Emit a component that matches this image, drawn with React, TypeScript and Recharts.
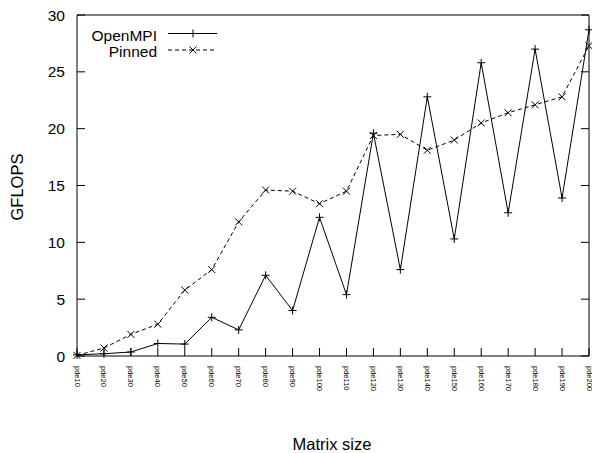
import {
  LineChart,
  Line,
  XAxis,
  YAxis,
  ReferenceLine,
  Customized,
} from "recharts";

const categories = [
  "pde10", "pde20", "pde30", "pde40", "pde50", "pde60", "pde70", "pde80", "pde90", "pde100",
  "pde110", "pde120", "pde130", "pde140", "pde150", "pde160", "pde170", "pde180", "pde190", "pde200",
];
const openMpi = [
  0.1, 0.2, 0.35, 1.1, 1.05, 3.4, 2.3, 7.1, 4.0, 12.2,
  5.4, 19.6, 7.6, 22.8, 10.3, 25.8, 12.6, 27.0, 13.9, 28.7,
];
const pinned = [
  0.05, 0.7, 1.9, 2.8, 5.8, 7.6, 11.8, 14.6, 14.5, 13.4,
  14.5, 19.4, 19.5, 18.1, 19.0, 20.5, 21.4, 22.1, 22.8, 27.3,
];
const yTicks = [0, 5, 10, 15, 20, 25, 30];

const data = categories.map((c, i) => ({ name: c, OpenMPI: openMpi[i], Pinned: pinned[i] }));

const FONT = "'Liberation Sans', Arial, Helvetica, sans-serif";
const LEFT = 77;
const RIGHT = 589;
const TOP = 15;
const BOTTOM = 356;

function PlusDot(props: any) {
  const { cx, cy, index } = props;
  if (cx == null || cy == null) return null;
  return (
    <path
      key={`p${index}`}
      d={`M${cx - 4},${cy}h8M${cx},${cy - 4}v8`}
      stroke="#000"
      strokeWidth={1}
      fill="none"
    />
  );
}

function CrossDot(props: any) {
  const { cx, cy, index } = props;
  if (cx == null || cy == null) return null;
  return (
    <path
      key={`x${index}`}
      d={`M${cx - 3.5},${cy - 3.5}l7,7M${cx - 3.5},${cy + 3.5}l7,-7`}
      stroke="#000"
      strokeWidth={1}
      fill="none"
    />
  );
}

function XTick(props: any) {
  const { x, payload } = props;
  return (
    <g>
      <line x1={x} x2={x} y1={BOTTOM} y2={BOTTOM - 8} stroke="#000" />
      <text
        transform={`translate(${x},366) rotate(90)`}
        fontSize={7.5}
        fontFamily={FONT}
        fill="#000"
        textAnchor="start"
        dominantBaseline="central"
      >
        {payload.value}
      </text>
    </g>
  );
}

function YTick(props: any) {
  const { y, payload } = props;
  return (
    <g>
      <line x1={LEFT} x2={LEFT + 8} y1={y} y2={y} stroke="#000" />
      <line x1={RIGHT - 8} x2={RIGHT} y1={y} y2={y} stroke="#000" />
      <text
        x={65}
        y={y}
        fontSize={15.5}
        fontFamily={FONT}
        fill="#000"
        textAnchor="end"
        dominantBaseline="central"
      >
        {payload.value}
      </text>
    </g>
  );
}

function Extras() {
  return (
    <g fontFamily={FONT} fill="#000">
      <text x={17} y={187} fontSize={16.5} textAnchor="middle" dominantBaseline="central"
        transform="rotate(-90, 17, 187)">
        GFLOPS
      </text>
      <text x={332} y={444} fontSize={16.5} textAnchor="middle" dominantBaseline="central">
        Matrix size
      </text>
      <text x={157} y={40.5} fontSize={15.5} textAnchor="end">OpenMPI</text>
      <line x1={168} x2={217} y1={33.5} y2={33.5} stroke="#000" />
      <PlusDot cx={193} cy={33.5} index="l1" />
      <text x={157} y={57} fontSize={15.5} textAnchor="end">Pinned</text>
      <line x1={168} x2={217} y1={50} y2={50} stroke="#000" strokeDasharray="4 3" />
      <CrossDot cx={193} cy={50} index="l2" />
    </g>
  );
}

export default function App() {
  return (
    <div style={{ position: "absolute", left: 0, top: 0, width: 592, height: 453, background: "#fff" }}>
      <LineChart
        width={592}
        height={453}
        data={data}
        margin={{ top: TOP, right: 592 - RIGHT, bottom: 0, left: 0 }}
      >
        <XAxis
          dataKey="name"
          height={453 - BOTTOM - 0}
          interval={0}
          padding={{ left: 0, right: 0 }}
          axisLine={{ stroke: "#000" }}
          tickLine={false}
          tick={<XTick />}
        />
        <YAxis
          width={LEFT}
          domain={[0, 30]}
          ticks={yTicks}
          axisLine={{ stroke: "#000" }}
          tickLine={false}
          tick={<YTick />}
          interval={0}
        />
        <ReferenceLine y={30} stroke="#000" ifOverflow="extendDomain" />
        <ReferenceLine x="pde200" stroke="#000" />
        <Line
          type="linear"
          dataKey="Pinned"
          stroke="#000"
          strokeWidth={1}
          strokeDasharray="4 3"
          dot={<CrossDot />}
          activeDot={false}
          isAnimationActive={false}
        />
        <Line
          type="linear"
          dataKey="OpenMPI"
          stroke="#000"
          strokeWidth={1}
          dot={<PlusDot />}
          activeDot={false}
          isAnimationActive={false}
        />
        <Customized component={<Extras />} />
      </LineChart>
    </div>
  );
}
